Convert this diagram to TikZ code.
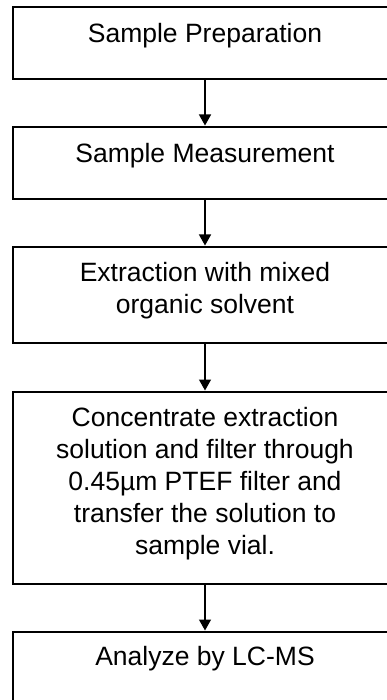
\documentclass[tikz,border=0pt]{standalone}
\usepackage{fontspec}
\setmainfont{Liberation Sans}
\usetikzlibrary{arrows.meta}
\tikzset{
  x=1pt, y=-1pt,
  stepbox/.style={draw=black, line width=2pt, minimum width=383.4pt, inner sep=0pt, anchor=north},
  boxtext/.style={anchor=base, inner sep=0pt, align=center, font=\fontsize{26.5}{32}\selectfont},
  flow/.style={draw=black, line width=1.3pt, -{Triangle[width=12pt,length=11pt]}, shorten >=0.5pt}
}
\begin{document}
\begin{tikzpicture}
\useasboundingbox (0,0) rectangle (387,700);
\clip (0,0) rectangle (387,700);
\fill[white] (0,0) rectangle (387,700);
\node[stepbox, minimum height=72.3pt] (b1) at (205,6) {};
\node[stepbox, minimum height=72pt] (b2) at (205,126) {};
\node[stepbox, minimum height=96.3pt] (b3) at (205,246) {};
\node[stepbox, minimum height=191.5pt] (b4) at (205,391) {};
\node[stepbox, minimum height=100pt] (b5) at (205,631) {};
\node[boxtext] (t1) at (205,42.7) {Sample Preparation};
\node[boxtext] (t2) at (205,162.7) {Sample Measurement};
\node[boxtext] (t3) at (205,313.5) {Extraction with mixed\\organic solvent};
\node[boxtext] (t4) at (205,554) {Concentrate extraction\\solution and filter through\\0.45µm PTEF filter and\\transfer the solution to\\sample vial.};
\node[boxtext] (t5) at (205,665) {Analyze by LC-MS};
\draw[flow] (b1.south) -- (b2.north);
\draw[flow] (b2.south) -- (b3.north);
\draw[flow] (b3.south) -- (b4.north);
\draw[flow] (b4.south) -- (b5.north);
\end{tikzpicture}
\end{document}
